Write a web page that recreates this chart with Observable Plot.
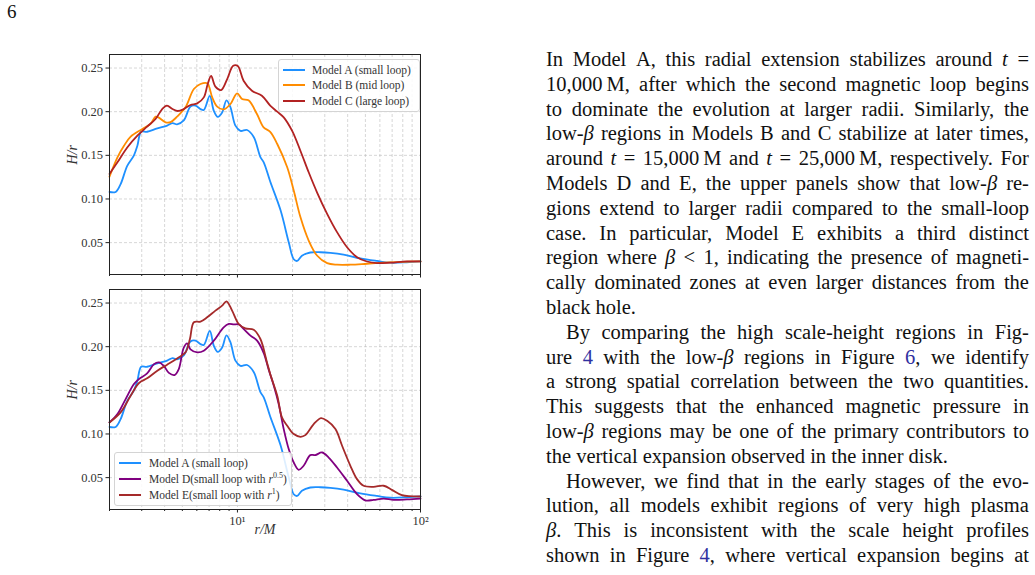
<!DOCTYPE html>
<html>
<head>
<meta charset="utf-8">
<script src="https://cdn.jsdelivr.net/npm/d3@7"></script>
<script src="https://cdn.jsdelivr.net/npm/@observablehq/plot@0.6"></script>
<style>
  html, body { margin: 0; padding: 0; background: #fff; }
  #page { position: relative; width: 1035px; height: 575px; overflow: hidden;
          font-family: "Liberation Serif", "DejaVu Serif", serif; color: #111; }
  #pageno { position: absolute; left: 7px; top: 1px; font-size: 19px; }
  .panel { position: absolute; left: 0; }
  .panel svg text { font-family: "Liberation Serif", serif; }
  .legend { position: absolute; border: 1px solid #d4d4d4; border-radius: 3px;
            background: rgba(255,255,255,0.85); font-size: 11.5px; color: #333; }
  .legend .item { position: absolute; left: 0; height: 14px; line-height: 14px; white-space: nowrap; }
  .legend .swatch { position: absolute; top: 6px; height: 2px; }
  .legend .lbl { position: absolute; top: 0; }
  .legend sup { font-size: 8px; line-height: 0; }
  .line { position: absolute; left: 546px; width: 483px; height: 25px; line-height: 25px;
          font-size: 20.5px; white-space: nowrap; }
  .just { display: flex; justify-content: space-between; }
  .line a { color: #3030a0; text-decoration: none; }
</style>
</head>
<body>
<div id="page">
  <div id="pageno">6</div>
  <div id="top" class="panel" style="top:0"></div>
  <div id="bottom" class="panel" style="top:270px"></div>
  <div id="legend1" class="legend" style="left:278px;top:59px;width:140px;height:51px"></div>
  <div id="legend2" class="legend" style="left:114px;top:452px;width:176px;height:52px"></div>
  <div id="text"></div>
</div>
<script>
// H/r scale-height profiles against radius r/M
const rA = [2.0, 2.16, 2.30, 2.50, 2.72, 2.84, 2.98, 3.21, 3.65, 4.13, 4.42, 4.68, 5.09, 5.54, 5.90, 6.28, 6.55, 7.06, 7.43, 7.81, 8.25, 8.71, 9.16, 9.75, 10.38, 11.29, 12.27, 13.35, 13.92, 15.1, 17.2, 19.06, 20.3, 21.2, 22.5, 25.0, 28.4, 32.2, 38.0, 46.9, 57.8, 68.3, 84, 100];
const hA = [0.108, 0.108, 0.117, 0.138, 0.150, 0.161, 0.177, 0.177, 0.181, 0.184, 0.187, 0.1855, 0.190, 0.206, 0.207, 0.203, 0.202, 0.218, 0.201, 0.194, 0.199, 0.213, 0.205, 0.184, 0.178, 0.179, 0.171, 0.148, 0.142, 0.120, 0.087, 0.0505, 0.031, 0.029, 0.035, 0.0387, 0.039, 0.0383, 0.0363, 0.032, 0.029, 0.027, 0.0275, 0.0285];

const rB = [2.0, 2.21, 2.40, 2.61, 2.98, 3.35, 3.57, 3.70, 4.05, 4.31, 4.68, 5.20, 5.78, 6.28, 6.83, 7.28, 7.75, 8.41, 9.16, 9.96, 10.6, 11.5, 12.8, 13.9, 15.1, 16.5, 18.7, 20.3, 22.1, 24.5, 27.2, 30.9, 35.0, 41.4, 51.0, 62.9, 79, 100];
const hB = [0.1256, 0.1477, 0.161, 0.1714, 0.1794, 0.186, 0.1943, 0.1935, 0.1878, 0.188, 0.1943, 0.205, 0.226, 0.2317, 0.2326, 0.2164, 0.2057, 0.2026, 0.2088, 0.221, 0.2145, 0.213, 0.197, 0.182, 0.177, 0.163, 0.1363, 0.1096, 0.079, 0.0524, 0.0353, 0.0265, 0.0247, 0.0247, 0.0258, 0.027, 0.028, 0.0285];

const rC = [2.0, 2.21, 2.50, 2.84, 3.21, 3.57, 3.88, 4.12, 4.42, 4.72, 5.09, 5.54, 6.03, 6.55, 6.88, 7.18, 7.58, 8.15, 8.79, 9.48, 10.04, 10.8, 12.0, 13.6, 15.1, 16.5, 17.9, 19.9, 22.1, 24.5, 27.2, 30.9, 35.0, 39.7, 45.0, 51.0, 57.8, 68.3, 84.4, 100];
const hC = [0.1287, 0.142, 0.159, 0.1725, 0.1828, 0.1916, 0.203, 0.2069, 0.203, 0.2008, 0.203, 0.2077, 0.2095, 0.2164, 0.2317, 0.241, 0.2286, 0.2248, 0.2374, 0.2526, 0.2523, 0.2355, 0.224, 0.2183, 0.207, 0.200, 0.1935, 0.178, 0.155, 0.1306, 0.1077, 0.083, 0.062, 0.0447, 0.0333, 0.0284, 0.0265, 0.027, 0.0285, 0.0285];

const rD = [2.0, 2.21, 2.45, 2.72, 2.90, 3.21, 3.50, 3.72, 3.96, 4.22, 4.53, 4.78, 5.09, 5.31, 5.54, 6.03, 6.55, 7.43, 8.41, 8.97, 9.55, 10.16, 10.8, 11.78, 12.8, 13.9, 14.8, 15.8, 16.8, 17.9, 19.06, 20.3, 21.6, 23.0, 25.0, 26.6, 29.0, 31.5, 35.0, 39.7, 45.0, 49.9, 55.4, 62.9, 71.3, 84.4, 100];
const hD = [0.1132, 0.1228, 0.140, 0.1572, 0.163, 0.1694, 0.180, 0.182, 0.178, 0.170, 0.1675, 0.1744, 0.199, 0.2038, 0.197, 0.1935, 0.1954, 0.2069, 0.2222, 0.226, 0.2255, 0.2255, 0.2203, 0.2126, 0.207, 0.193, 0.174, 0.1553, 0.1343, 0.1056, 0.0827, 0.0673, 0.059, 0.0636, 0.0758, 0.0758, 0.0788, 0.073, 0.0616, 0.0464, 0.0311, 0.0240, 0.0245, 0.026, 0.0245, 0.025, 0.026];

const rE = [2.0, 2.30, 2.61, 2.90, 3.21, 3.65, 4.13, 4.68, 5.2, 5.5, 5.78, 6.28, 6.83, 7.58, 8.25, 8.71, 9.35, 10.16, 11.06, 12.27, 13.35, 14.5, 15.1, 16.5, 17.5, 18.7, 20.3, 22.1, 23.5, 26.1, 28.6, 30.9, 34.3, 37.3, 41.4, 45.0, 48.9, 55.4, 62.9, 69.8, 79.1, 100];
const hE = [0.1132, 0.1247, 0.1438, 0.1584, 0.1637, 0.1725, 0.1794, 0.1866, 0.1935, 0.2088, 0.228, 0.2287, 0.2336, 0.2413, 0.247, 0.252, 0.2413, 0.226, 0.221, 0.2195, 0.2088, 0.182, 0.1687, 0.1438, 0.119, 0.1094, 0.0999, 0.0968, 0.0987, 0.1113, 0.1182, 0.1151, 0.1056, 0.0865, 0.0636, 0.0483, 0.0407, 0.0395, 0.0407, 0.036, 0.030, 0.0284];

// axes
const xDomain = [2, 100];
const yDomain = [0.0135, 0.2655];
const xMajor = [10, 100];
const xMajorLabels = ["10\u00B9", "10\u00B2"];
const xMinor = [2, 3, 4, 5, 6, 7, 8, 9, 20, 30, 40, 50, 60, 70, 80, 90];
const yTicks = [0.05, 0.10, 0.15, 0.20, 0.25];
const yLabel = "H/r";
const xLabel = "r/M";

// series styling and legend labels
const modelA = {r: rA, h: hA, color: "#1e90ff", label: "Model A (small loop)"};
const modelB = {r: rB, h: hB, color: "#ff8c00", label: "Model B (mid loop)"};
const modelC = {r: rC, h: hC, color: "#b22222", label: "Model C (large loop)"};
const modelD = {r: rD, h: hD, color: "#800080", label: "Model D(small loop with <i>r</i><sup>0.5</sup>)"};
const modelE = {r: rE, h: hE, color: "#a52a2a", label: "Model E(small loop with <i>r</i><sup>1</sup>)"};

const rows = s => s.r.map((r, i) => ({r, h: s.h[i]}));

function panel(series, {top, bottom, showXLabels}) {
  const frameH = 220;
  return Plot.plot({
    width: 430,
    height: top + frameH + bottom,
    marginLeft: 109, marginRight: 10, marginTop: top, marginBottom: bottom,
    style: {fontFamily: "'Liberation Serif', serif", fontSize: "12.5px", color: "#333", background: "transparent", overflow: "visible"},
    x: {type: "log", domain: xDomain, label: null},
    y: {domain: yDomain, label: null},
    marks: [
      Plot.gridX(xMajor.concat(xMinor), {stroke: "#b8b8b8", strokeOpacity: 0.7, strokeDasharray: "3,2", strokeWidth: 0.8}),
      Plot.gridY(yTicks, {stroke: "#b8b8b8", strokeOpacity: 0.7, strokeDasharray: "3,2", strokeWidth: 0.8}),
      ...series.map(s => Plot.line(rows(s), {x: "r", y: "h", stroke: s.color, strokeWidth: 1.8, curve: "catmull-rom"})),
      Plot.axisY(yTicks, {tickSize: 3.5, tickPadding: 3, tickFormat: d3.format(".2f"), label: null, stroke: "#222", fontSize: 12.5}),
      Plot.axisX(xMajor, {tickSize: 3.5, tickPadding: 3, fontSize: 12.5,
        tickFormat: showXLabels ? (d => xMajorLabels[xMajor.indexOf(d)]) : (() => ""), label: null, stroke: "#222"}),
      Plot.axisX(xMinor, {tickSize: 2, tickFormat: () => "", label: null, stroke: "#222"}),
      Plot.frame({stroke: "#222", strokeWidth: 1}),
      Plot.text([yLabel], {frameAnchor: "left", dx: -37, rotate: -90, fontStyle: "italic", fontSize: 14, fill: "#333"}),
      ...(showXLabels ? [Plot.text([xLabel], {frameAnchor: "bottom", dy: 24, fontStyle: "italic", fontSize: 14, fill: "#333"})] : [])
    ]
  });
}

document.getElementById("top").append(panel([modelA, modelB, modelC], {top: 54, bottom: 26, showXLabels: false}));
document.getElementById("bottom").append(panel([modelA, modelD, modelE], {top: 19, bottom: 65, showXLabels: true}));

function legend(id, series, {first, step, lineX, lineW, textX}) {
  const el = document.getElementById(id);
  series.forEach((s, i) => {
    const item = document.createElement("div");
    item.className = "item";
    item.style.top = (first + i * step - 7) + "px";
    item.innerHTML = `<span class="swatch" style="left:${lineX}px;width:${lineW}px;background:${s.color}"></span>` +
                     `<span class="lbl" style="left:${textX}px">${s.label}</span>`;
    el.append(item);
  });
}
legend("legend1", [modelA, modelB, modelC], {first: 9.5, step: 15.7, lineX: 4, lineW: 22, textX: 33});
legend("legend2", [modelA, modelD, modelE], {first: 10, step: 16, lineX: 4, lineW: 22, textX: 34});

// body text, one entry per typeset line
const bodyLines = [
  ["In Model A, this radial extension stabilizes around <i>t</i> =", "j", 0],
  ["10,000\u2009M, after which the second magnetic loop begins", "j", 0],
  ["to dominate the evolution at larger radii. Similarly, the", "j", 0],
  ["low-<i>β</i> regions in Models B and C stabilize at later times,", "j", 0],
  ["around <i>t</i> = 15,000\u2009M and <i>t</i> = 25,000\u2009M, respectively. For", "j", 0],
  ["Models D and E, the upper panels show that low-<i>β</i> re-", "j", 0],
  ["gions extend to larger radii compared to the small-loop", "j", 0],
  ["case. In particular, Model E exhibits a third distinct", "j", 0],
  ["region where <i>β</i> &lt; 1, indicating the presence of magneti-", "j", 0],
  ["cally dominated zones at even larger distances from the", "j", 0],
  ["black hole.", "l", 0],
  ["By comparing the high scale-height regions in Fig-", "j", 20],
  ["ure <a>4</a> with the low-<i>β</i> regions in Figure <a>6</a>, we identify", "j", 0],
  ["a strong spatial correlation between the two quantities.", "j", 0],
  ["This suggests that the enhanced magnetic pressure in", "j", 0],
  ["low-<i>β</i> regions may be one of the primary contributors to", "j", 0],
  ["the vertical expansion observed in the inner disk.", "l", 0],
  ["However, we find that in the early stages of the evo-", "j", 20],
  ["lution, all models exhibit regions of very high plasma", "j", 0],
  ["<i>β</i>. This is inconsistent with the scale height profiles", "j", 0],
  ["shown in Figure <a>4</a>, where vertical expansion begins at", "j", 0]
];
const textBox = document.getElementById("text");
bodyLines.forEach(([html, mode, indent], i) => {
  const div = document.createElement("div");
  div.className = "line" + (mode === "j" ? " just" : "");
  div.style.top = (47 + i * 24.8) + "px";
  div.style.left = (546 + indent) + "px";
  div.style.width = (483 - indent) + "px";
  if (mode === "j") {
    div.innerHTML = html.split(" ").map(w => `<span>${w}</span>`).join("");
  } else {
    div.innerHTML = html;
  }
  textBox.append(div);
});
</script>
</body>
</html>
